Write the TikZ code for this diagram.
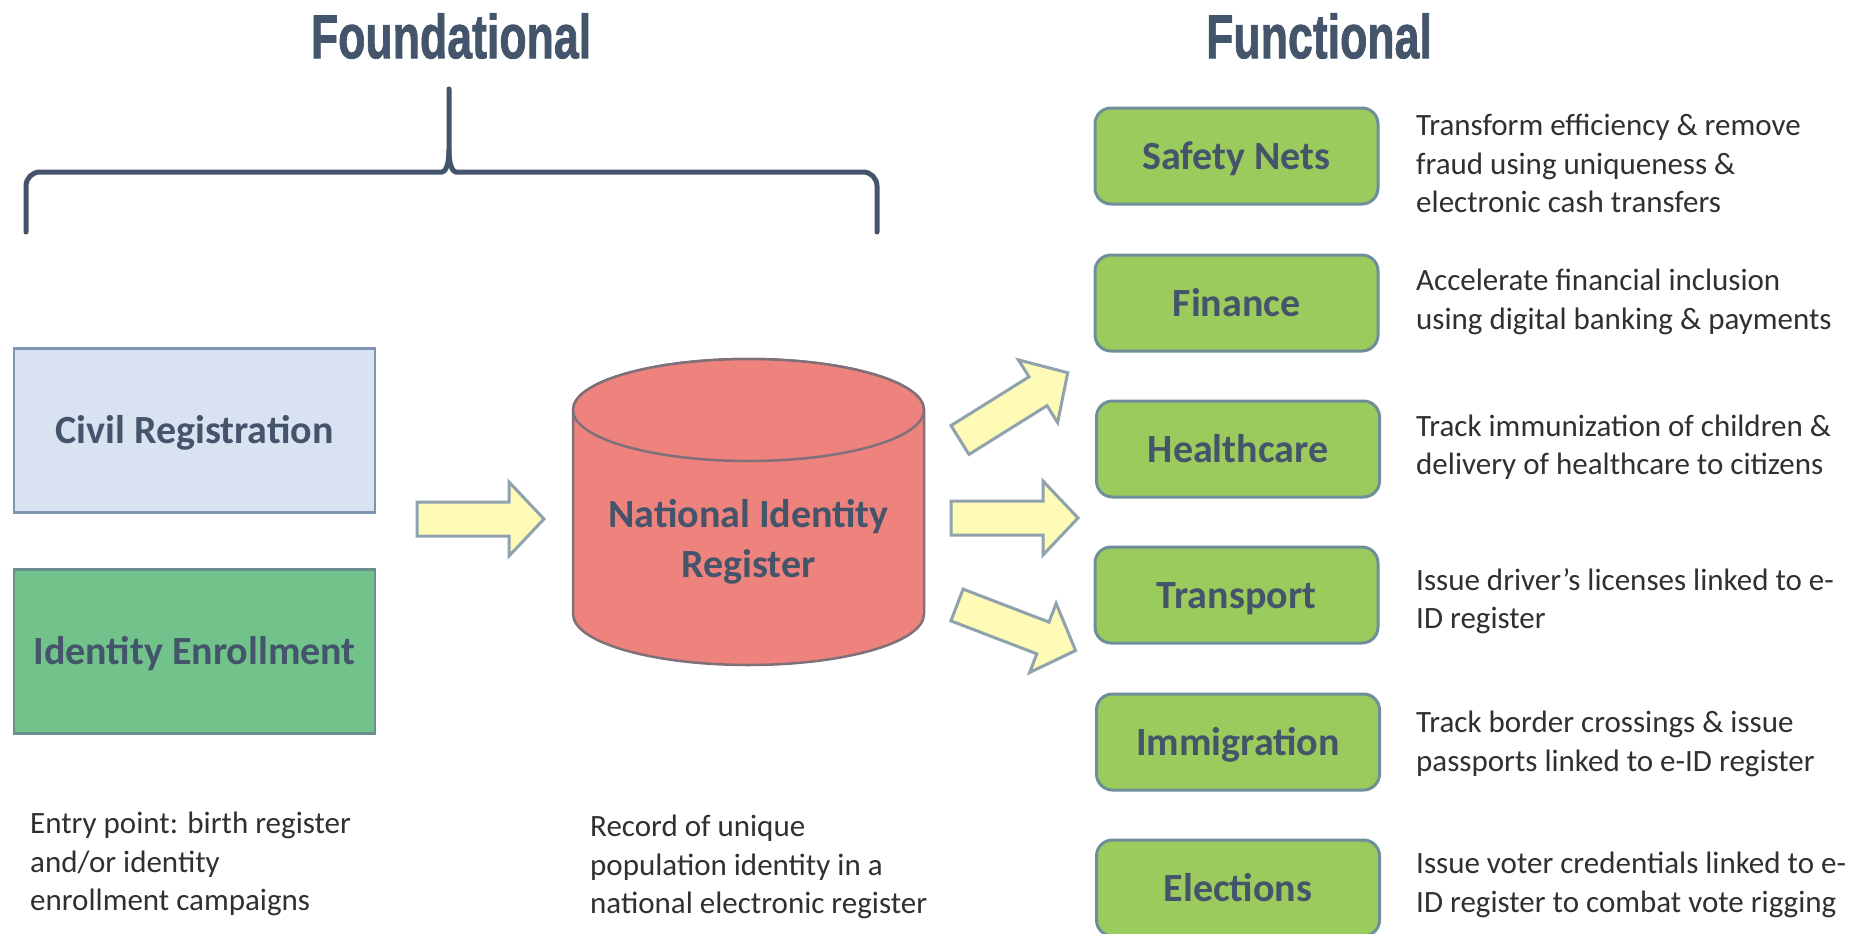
\documentclass[tikz,border=0pt]{standalone}
\usepackage{fontspec}
\setmainfont{Carlito}
\newfontfamily\titlefont{Liberation Sans}[BoldFeatures={FakeBold=1.5}]
\definecolor{slate}{HTML}{44546A}
\definecolor{desctext}{HTML}{303030}
\definecolor{civfill}{HTML}{D8E2F1}
\definecolor{civborder}{HTML}{7F95B2}
\definecolor{enrfill}{HTML}{72C38B}
\definecolor{enrborder}{HTML}{6A8F90}
\definecolor{cylfill}{HTML}{EE827C}
\definecolor{cylborder}{HTML}{80707A}
\definecolor{fngreen}{HTML}{9BCB5C}
\definecolor{fnborder}{HTML}{6E8F9A}
\definecolor{arrfill}{HTML}{FDFBB5}
\definecolor{arrborder}{HTML}{8FA2AE}
\tikzset{
  titlesty/.style={inner sep=0, text=slate, font=\titlefont\bfseries\fontsize{62}{62}\selectfont},
  lbl/.style={text=slate, font=\bfseries\fontsize{40}{50}\selectfont},
  capcenter/.style={text height=26pt, text depth=0pt},
  desc/.style={font=\fontsize{31}{38.5}\selectfont, text=desctext, align=left, inner sep=0},
  fnbox/.style={draw=fnborder, line width=3, fill=fngreen, rounded corners=16, minimum width=283, minimum height=96, lbl, capcenter},
  plainbox/.style={line width=2.5, minimum width=361, minimum height=164, lbl, capcenter},
  bracesty/.style={draw=slate, line width=5, line cap=round},
  arrowsty/.style={fill=arrfill, draw=arrborder, line width=3, line join=miter},
  cylsty/.style={fill=cylfill, draw=cylborder, line width=2.5},
  fatarrow/.pic={\filldraw[arrowsty] (0,-17) -- (92,-17) -- (92,-37) -- (127,0) -- (92,37) -- (92,17) -- (0,17) -- cycle;}
}
\begin{document}
\begin{tikzpicture}[x=1pt,y=-1pt]
\useasboundingbox[fill=white] (0,0) rectangle (1863,934);

% titles
\node[titlesty] (tfound) at (451,36) {\scalebox{0.72}[1]{Foundational}};
\node[titlesty] (tfunc) at (1319,36) {\scalebox{0.72}[1]{Functional}};

% brace
\coordinate (bstem) at (449,89);
\draw[bracesty] (26,232) [rounded corners=14] -- (26,172) -- (428,172) [sharp corners] .. controls (445,172) and (449,166) .. (449,150) -- (bstem);
\draw[bracesty] (877,232) [rounded corners=14] -- (877,172) -- (470,172) [sharp corners] .. controls (453,172) and (449,166) .. (449,150);

% left boxes
\node[plainbox, draw=civborder, fill=civfill] (civ) at (194.5,430.5) {Civil Registration};
\node[plainbox, draw=enrborder, fill=enrfill] (enr) at (194.5,651.5) {Identity Enrollment};

% cylinder
\filldraw[cylsty] (573,410) -- (573,614) arc[start angle=180, end angle=360, x radius=175.5pt, y radius=51pt] -- (924,410) arc[start angle=0, end angle=180, x radius=175.5pt, y radius=51pt] -- cycle;
\draw[cylsty] (748.5,410) ellipse [x radius=175.5pt, y radius=51pt];
\node[lbl, align=center, inner sep=0] (nir) at (748.5,542) {National Identity\\Register};

% arrows
\pic (a1) at (417,519) {fatarrow};
\pic (a2) at (951,518) {fatarrow};
\pic[rotate=32] (a3) at (960,440) {fatarrow};
\pic[rotate=-21] (a4) at (957,605) {fatarrow};

% functional boxes
\node[fnbox] (sn) at (1236.5,156) {Safety Nets};
\node[fnbox] (fin) at (1236.5,303) {Finance};
\node[fnbox] (hc) at (1238,449) {Healthcare};
\node[fnbox] (tr) at (1236.5,595) {Transport};
\node[fnbox] (im) at (1238,742) {Immigration};
\node[fnbox] (el) at (1238,888) {Elections};

% descriptions
\node[desc, anchor=west] (dsn) at (1416,163.5) {Transform efficiency \& remove\\fraud using uniqueness \&\\electronic cash transfers};
\node[desc, anchor=west] (dfin) at (1416,302) {Accelerate financial inclusion\\using digital banking \& payments};
\node[desc, anchor=west] (dhc) at (1416,447) {Track immunization of children \&\\delivery of healthcare to citizens};
\node[desc, anchor=west] (dtr) at (1416,601) {Issue driver’s licenses linked to e-\\ID register};
\node[desc, anchor=west] (dim) at (1416,744) {Track border crossings \& issue\\passports linked to e-ID register};
\node[desc, anchor=west] (del) at (1416,885) {Issue voter credentials linked to e-\\ID register to combat vote rigging};

% bottom notes
\node[desc, anchor=north west] (nleft) at (30,812) {Entry point: birth register\\and/or identity\\enrollment campaigns};
\node[desc, anchor=north west] (nmid) at (590,815) {Record of unique\\population identity in a\\national electronic register};
\end{tikzpicture}
\end{document}
